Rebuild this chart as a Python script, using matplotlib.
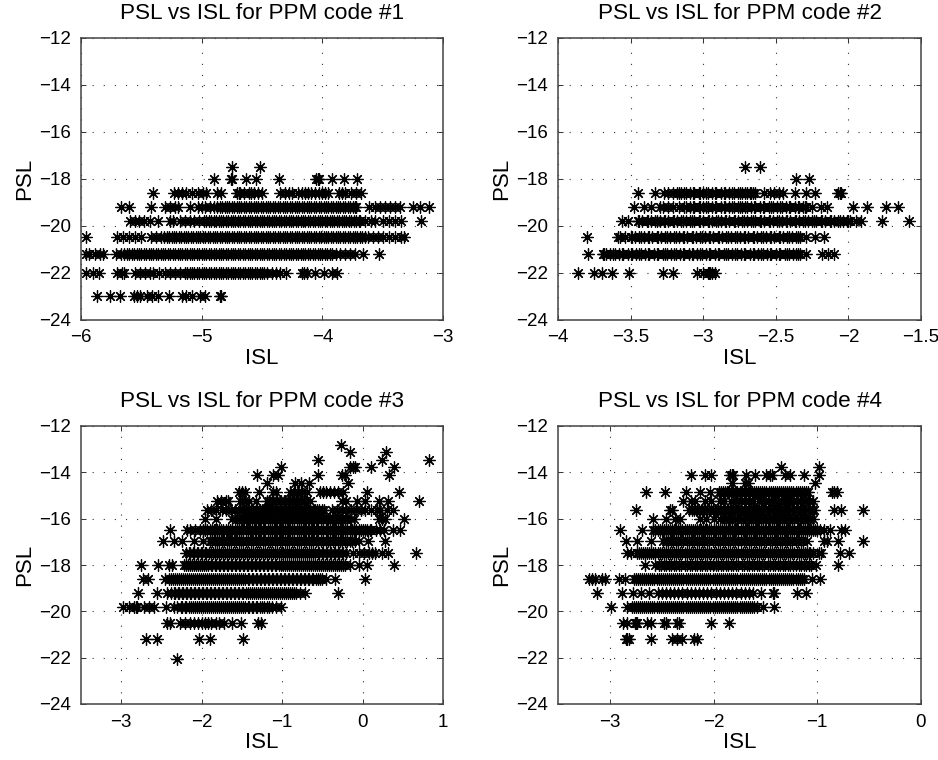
import matplotlib
matplotlib.use("Agg")
import matplotlib.pyplot as plt

plt.rcParams['font.family'] = ['Liberation Sans', 'DejaVu Sans']

# PSL levels and the ISL values read along each level
psl_1 = [-17.5, -18, -18.6, -19.2, -19.8, -20.5, -21.2, -22, -23]
isl_1 = [
    [-4.75, -4.52],
    [-4.90, -4.76, -4.75, -4.63, -4.55, -4.36, -4.05, -4.04, -4.03, -3.92, -3.82, -3.71],
    [-5.40, -5.23, -5.20, -5.16, -5.13, -5.08, -5.03, -4.99, -4.96, -4.87, -4.84, -4.71, -4.69, -4.68, -4.65,
     -4.61, -4.59, -4.57, -4.53, -4.50, -4.35, -4.31, -4.28, -4.25, -4.20, -4.17, -4.14, -4.12, -4.09, -4.06,
     -4.03, -4.00, -3.98, -3.95, -3.86, -3.84, -3.81, -3.76, -3.72, -3.68],
    [-5.67, -5.60, -5.42, -5.30, -5.26, -5.22, -5.20, -5.10, -5.03, -5.00, -4.97, -4.93, -4.90, -4.87, -4.83,
     -4.79, -4.75, -4.71, -4.67, -4.63, -4.59, -4.55, -4.51, -4.47, -4.43, -4.39, -4.35, -4.31, -4.27, -4.23,
     -4.19, -4.15, -4.11, -4.07, -4.03, -3.99, -3.95, -3.91, -3.87, -3.83, -3.79, -3.75, -3.72, -3.61, -3.56,
     -3.52, -3.48, -3.44, -3.40, -3.36, -3.25, -3.19, -3.12],
    [-5.59, -5.55, -5.52, -5.48, -5.43, -5.36, -5.26, -5.24, -5.18, -5.14, -5.10, -5.06, -5.02, -4.98, -4.96,
     -4.92, -4.88, -4.84, -4.80, -4.76, -4.72, -4.68, -4.64, -4.60, -4.56, -4.52, -4.48, -4.44, -4.40, -4.36,
     -4.32, -4.28, -4.24, -4.20, -4.16, -4.12, -4.08, -4.04, -4.00, -3.96, -3.92, -3.88, -3.84, -3.80, -3.76,
     -3.72, -3.69, -3.65, -3.60, -3.56, -3.50, -3.45, -3.40, -3.35, -3.18],
    [-5.96, -5.70, -5.65, -5.60, -5.55, -5.50, -5.42, -5.38, -5.34, -5.31, -5.27, -5.23, -5.19, -5.15, -5.11,
     -5.07, -5.03, -4.99, -4.95, -4.91, -4.87, -4.83, -4.79, -4.75, -4.71, -4.67, -4.63, -4.59, -4.55, -4.51,
     -4.47, -4.43, -4.39, -4.35, -4.31, -4.27, -4.23, -4.19, -4.15, -4.11, -4.07, -4.03, -3.99, -3.95, -3.91,
     -3.87, -3.83, -3.79, -3.75, -3.71, -3.67, -3.62, -3.58, -3.54, -3.50, -3.45, -3.40, -3.35, -3.32],
    [-5.96, -5.93, -5.88, -5.84, -5.82, -5.71, -5.67, -5.64, -5.60, -5.56, -5.52, -5.48, -5.44, -5.40, -5.36,
     -5.32, -5.28, -5.24, -5.20, -5.16, -5.12, -5.08, -5.04, -5.00, -4.96, -4.92, -4.88, -4.84, -4.80, -4.76,
     -4.72, -4.68, -4.64, -4.60, -4.56, -4.52, -4.48, -4.44, -4.40, -4.36, -4.32, -4.28, -4.24, -4.20, -4.16,
     -4.12, -4.08, -4.04, -4.00, -3.96, -3.92, -3.89, -3.85, -3.81, -3.77, -3.73, -3.66, -3.53],
    [-5.96, -5.90, -5.85, -5.70, -5.66, -5.64, -5.55, -5.51, -5.47, -5.43, -5.40, -5.35, -5.30, -5.26, -5.22,
     -5.18, -5.14, -5.10, -5.06, -5.02, -4.98, -4.94, -4.90, -4.86, -4.82, -4.78, -4.74, -4.70, -4.66, -4.62,
     -4.58, -4.54, -4.50, -4.46, -4.42, -4.38, -4.35, -4.30, -4.17, -4.15, -4.13, -4.06, -3.99, -3.92, -3.88],
    [-5.87, -5.76, -5.68, -5.56, -5.54, -5.51, -5.45, -5.41, -5.36, -5.27, -5.16, -5.13, -5.08, -5.01, -4.97,
     -4.85, -4.84],
]
# further points inside the black bands of each panel
band_psl_1 = [-19.2, -19.8, -20.5, -21.2, -22]
band_isl_1 = [
    [-4.85, -4.81, -4.77, -4.73, -4.69, -4.65, -4.61, -4.57, -4.53, -4.49, -4.45, -4.41, -4.37, -4.33, -4.29,
     -4.25, -4.21, -4.17, -4.13, -4.09, -4.05, -4.01, -3.97, -3.93, -3.89, -3.85, -3.81, -3.77, -3.73],
    [-4.94, -4.90, -4.86, -4.82, -4.78, -4.74, -4.70, -4.66, -4.62, -4.58, -4.54, -4.50, -4.46, -4.42, -4.38,
     -4.34, -4.30, -4.26, -4.22, -4.18, -4.14, -4.10, -4.06, -4.02, -3.98, -3.94, -3.90, -3.86, -3.82, -3.78,
     -3.74, -3.70],
    [-5.29, -5.25, -5.21, -5.17, -5.13, -5.09, -5.05, -5.01, -4.97, -4.93, -4.89, -4.85, -4.81, -4.77, -4.73,
     -4.69, -4.65, -4.61, -4.57, -4.53, -4.49, -4.45, -4.41, -4.37, -4.33, -4.29, -4.25, -4.21, -4.17, -4.13,
     -4.09, -4.05, -4.01, -3.97, -3.93, -3.89, -3.85, -3.81, -3.77, -3.73, -3.69, -3.65],
    [-5.62, -5.58, -5.54, -5.50, -5.46, -5.42, -5.38, -5.34, -5.30, -5.26, -5.22, -5.18, -5.14, -5.10, -5.06,
     -5.02, -4.98, -4.94, -4.90, -4.86, -4.82, -4.78, -4.74, -4.70, -4.66, -4.62, -4.58, -4.54, -4.50, -4.46,
     -4.42, -4.38, -4.34, -4.30, -4.26, -4.22, -4.18, -4.14, -4.10, -4.06, -4.02, -3.98, -3.94],
    [-5.12, -5.08, -5.04, -5.00, -4.96, -4.92, -4.88, -4.84, -4.80, -4.76, -4.72, -4.68, -4.64, -4.60, -4.56,
     -4.52, -4.48],
]

psl_2 = [-17.5, -18, -18.6, -19.2, -19.8, -20.5, -21.2, -22]
isl_2 = [
    [-2.71, -2.61],
    [-2.36, -2.27],
    [-3.45, -3.33, -3.27, -3.24, -3.21, -3.18, -3.15, -3.12, -3.09, -3.06, -3.03, -3.00, -2.97, -2.94, -2.91,
     -2.88, -2.85, -2.82, -2.79, -2.76, -2.73, -2.70, -2.67, -2.64, -2.58, -2.54, -2.51, -2.48, -2.45, -2.37,
     -2.29, -2.23, -2.07, -2.06, -2.05],
    [-3.48, -3.41, -3.36, -3.30, -3.28, -3.24, -3.21, -3.17, -3.13, -3.12, -3.09, -3.06, -3.03, -3.00, -2.97,
     -2.94, -2.91, -2.88, -2.85, -2.82, -2.79, -2.76, -2.73, -2.70, -2.67, -2.64, -2.61, -2.58, -2.55, -2.52,
     -2.49, -2.46, -2.43, -2.40, -2.37, -2.34, -2.31, -2.29, -2.25, -2.19, -2.15, -1.97, -1.87, -1.74, -1.66],
    [-3.56, -3.52, -3.45, -3.42, -3.39, -3.36, -3.33, -3.30, -3.27, -3.24, -3.21, -3.18, -3.15, -3.12, -3.09,
     -3.06, -3.03, -3.00, -2.97, -2.94, -2.91, -2.88, -2.85, -2.82, -2.79, -2.76, -2.73, -2.70, -2.67, -2.64,
     -2.61, -2.58, -2.55, -2.52, -2.49, -2.46, -2.43, -2.40, -2.37, -2.34, -2.31, -2.28, -2.25, -2.22, -2.19,
     -2.16, -2.13, -2.10, -2.07, -2.04, -2.01, -1.99, -1.95, -1.91, -1.77, -1.58],
    [-3.80, -3.59, -3.57, -3.54, -3.50, -3.47, -3.44, -3.41, -3.38, -3.35, -3.32, -3.29, -3.26, -3.23, -3.20,
     -3.17, -3.14, -3.11, -3.08, -3.05, -3.02, -2.99, -2.96, -2.93, -2.90, -2.87, -2.84, -2.81, -2.78, -2.75,
     -2.72, -2.69, -2.66, -2.63, -2.60, -2.57, -2.54, -2.51, -2.48, -2.45, -2.42, -2.39, -2.36, -2.33, -2.29,
     -2.23, -2.17],
    [-3.79, -3.69, -3.67, -3.64, -3.61, -3.58, -3.55, -3.52, -3.49, -3.46, -3.43, -3.40, -3.37, -3.34, -3.31,
     -3.28, -3.25, -3.22, -3.19, -3.16, -3.13, -3.10, -3.07, -3.04, -3.01, -2.98, -2.95, -2.92, -2.89, -2.86,
     -2.83, -2.80, -2.77, -2.74, -2.71, -2.68, -2.65, -2.62, -2.59, -2.56, -2.53, -2.50, -2.47, -2.44, -2.41,
     -2.38, -2.35, -2.33, -2.29, -2.18, -2.14, -2.10],
    [-3.86, -3.75, -3.70, -3.63, -3.51, -3.28, -3.21, -3.04, -3.00, -2.97, -2.96, -2.95, -2.94, -2.92],
]
band_psl_2 = [-18.6, -19.2, -19.8, -20.5, -21.2]
band_isl_2 = [
    [-3.17, -3.13, -3.07, -3.02, -2.98, -2.92, -2.86, -2.80, -2.75, -2.71, -2.68, -2.66],
    [-3.07, -3.02, -2.98, -2.92, -2.86, -2.80, -2.75, -2.71, -2.65, -2.59, -2.53, -2.47, -2.41, -2.35, -2.30],
    [-3.44, -3.38, -3.32, -3.26, -3.20, -3.14, -3.08, -3.02, -2.96, -2.90, -2.84, -2.78, -2.72, -2.66, -2.60,
     -2.54, -2.48, -2.42, -2.36, -2.30, -2.24, -2.18, -2.12, -2.06, -2.00],
    [-3.49, -3.43, -3.37, -3.31, -3.25, -3.19, -3.13, -3.07, -3.01, -2.95, -2.89, -2.83, -2.77, -2.71, -2.65,
     -2.59, -2.53, -2.47, -2.41, -2.35],
    [-3.68, -3.62, -3.56, -3.50, -3.44, -3.38, -3.32, -3.26, -3.20, -3.14, -3.08, -3.02, -2.96, -2.90, -2.84,
     -2.78, -2.72, -2.66, -2.60, -2.54, -2.48, -2.42, -2.36],
]

psl_3 = [-12.84, -13.14, -13.47, -13.78, -14.12, -14.47, -14.84, -15.22, -15.61, -16, -16.48, -16.98, -17.5,
         -18, -18.6, -19.2, -19.8, -20.5, -21.2, -22.05]
isl_3 = [
    [-0.27],
    [-0.15, 0.29],
    [-0.56, 0.24, 0.83],
    [-1.02, -0.16, -0.12, -0.10, 0.10, 0.39],
    [-1.31, -1.11, -1.05, -0.55, -0.26, -0.22, 0.33],
    [-1.19, -0.84, -0.76, -0.67, -0.18],
    [-1.54, -1.50, -1.46, -1.29, -1.11, -1.07, -0.90, -0.85, -0.80, -0.75, -0.69, -0.53, -0.49, -0.45, -0.41,
     -0.36, -0.30, -0.24, 0.06, 0.45],
    [-1.81, -1.76, -1.70, -1.67, -1.52, -1.47, -1.41, -1.33, -1.16, -1.11, -1.06, -1.01, -0.96, -0.91, -0.86,
     -0.81, -0.76, -0.71, -0.65, -0.26, -0.20, -0.07, 0.03, 0.21, 0.32, 0.70],
    [-1.93, -1.88, -1.82, -1.75, -1.70, -1.64, -1.58, -1.53, -1.47, -1.42, -1.36, -1.31, -1.25, -1.20, -1.14,
     -1.09, -1.03, -0.98, -0.92, -0.87, -0.81, -0.76, -0.70, -0.65, -0.59, -0.54, -0.48, -0.38, -0.32, -0.26,
     -0.20, -0.14, -0.08, -0.02, 0.03, 0.10, 0.18, 0.22, 0.30, 0.38],
    [-1.96, -1.82, -1.62, -1.56, -1.50, -1.44, -1.38, -1.33, -1.27, -1.21, -1.15, -1.09, -1.03, -0.97, -0.91,
     -0.85, -0.79, -0.73, -0.67, -0.61, -0.55, -0.49, -0.43, -0.37, -0.31, -0.25, -0.19, -0.14, -0.11, 0.21,
     0.24, 0.28, 0.52],
    [-2.39, -2.18, -2.14, -2.08, -2.02, -1.96, -1.90, -1.85, -1.81, -1.76, -1.70, -1.65, -1.59, -1.54, -1.48,
     -1.43, -1.37, -1.32, -1.26, -1.21, -1.15, -1.10, -1.04, -0.99, -0.93, -0.88, -0.82, -0.77, -0.71, -0.66,
     -0.60, -0.55, -0.49, -0.44, -0.38, -0.33, -0.27, -0.22, -0.16, -0.11, -0.05, 0.00, 0.06, 0.11, 0.17, 0.22,
     0.27, 0.38, 0.46],
    [-2.48, -2.34, -2.24, -2.10, -1.98, -1.90, -1.84, -1.78, -1.72, -1.66, -1.60, -1.54, -1.48, -1.42, -1.36,
     -1.30, -1.24, -1.18, -1.12, -1.06, -1.00, -0.94, -0.88, -0.82, -0.76, -0.70, -0.64, -0.58, -0.52, -0.46,
     -0.40, -0.34, -0.28, -0.22, -0.16, -0.10, -0.05, 0.07, 0.28],
    [-2.19, -2.14, -2.09, -2.04, -1.99, -1.94, -1.89, -1.84, -1.79, -1.74, -1.69, -1.64, -1.59, -1.54, -1.49,
     -1.44, -1.39, -1.34, -1.29, -1.24, -1.19, -1.14, -1.09, -1.04, -0.99, -0.94, -0.89, -0.84, -0.79, -0.74,
     -0.69, -0.64, -0.59, -0.54, -0.49, -0.44, -0.39, -0.34, -0.29, -0.24, -0.20, -0.12, -0.04, 0.02, 0.08, 0.12,
     0.16, 0.24, 0.32, 0.66],
    [-2.75, -2.54, -2.41, -2.37, -2.22, -2.17, -2.12, -2.07, -2.02, -1.97, -1.92, -1.87, -1.82, -1.77, -1.72,
     -1.67, -1.62, -1.57, -1.52, -1.47, -1.42, -1.37, -1.32, -1.27, -1.22, -1.17, -1.12, -1.07, -1.02, -0.97,
     -0.92, -0.87, -0.82, -0.77, -0.72, -0.67, -0.62, -0.57, -0.52, -0.47, -0.42, -0.37, -0.32, -0.27, -0.22,
     -0.16, -0.05, 0.05, 0.39],
    [-2.73, -2.67, -2.45, -2.41, -2.36, -2.31, -2.26, -2.21, -2.16, -2.11, -2.06, -2.01, -1.96, -1.91, -1.86,
     -1.81, -1.76, -1.71, -1.66, -1.61, -1.56, -1.51, -1.46, -1.41, -1.36, -1.31, -1.26, -1.21, -1.16, -1.11,
     -1.06, -1.01, -0.96, -0.91, -0.86, -0.81, -0.76, -0.71, -0.66, -0.61, -0.56, -0.51, -0.45, -0.34, 0.03],
    [-2.79, -2.55, -2.43, -2.38, -2.33, -2.28, -2.23, -2.18, -2.13, -2.08, -2.03, -1.98, -1.93, -1.88, -1.83,
     -1.78, -1.73, -1.68, -1.63, -1.58, -1.53, -1.48, -1.43, -1.38, -1.33, -1.28, -1.23, -1.18, -1.13, -1.08,
     -1.03, -0.98, -0.93, -0.88, -0.83, -0.78, -0.71, -0.30],
    [-2.98, -2.90, -2.84, -2.82, -2.80, -2.72, -2.66, -2.59, -2.44, -2.35, -2.31, -2.26, -2.21, -2.16, -2.11,
     -2.06, -2.01, -1.96, -1.91, -1.86, -1.81, -1.76, -1.71, -1.66, -1.61, -1.56, -1.51, -1.46, -1.41, -1.36,
     -1.31, -1.25, -1.19, -1.13, -1.08, -1.02],
    [-2.43, -2.39, -2.27, -2.21, -2.15, -2.10, -2.04, -2.00, -1.96, -1.92, -1.88, -1.82, -1.79, -1.72, -1.62,
     -1.51, -1.30, -1.26],
    [-2.69, -2.55, -2.03, -1.90, -1.49],
    [-2.31],
]
band_psl_3 = [-15.22, -15.61, -16, -16.48, -16.98, -17.5, -18, -18.6, -19.2, -19.8]
band_isl_3 = [
    [-1.19, -1.13, -1.08, -1.03, -0.98, -0.93, -0.88, -0.83, -0.78, -0.73],
    [-1.50, -1.45, -1.39, -1.33, -1.28, -1.23, -1.17, -1.12, -1.06, -1.01, -0.95, -0.90, -0.84, -0.79, -0.73,
     -0.68, -0.62, -0.57, -0.51],
    [-1.53, -1.47, -1.41, -1.35, -1.30, -1.24, -1.18, -1.12, -1.06, -1.00, -0.94, -0.88, -0.82, -0.76, -0.70,
     -0.64, -0.58, -0.52, -0.46, -0.40, -0.34, -0.28, -0.22],
    [-1.98, -1.93, -1.87, -1.83, -1.78, -1.73, -1.67, -1.62, -1.56, -1.51, -1.45, -1.40, -1.34, -1.29, -1.23,
     -1.18, -1.12, -1.07, -1.01, -0.96, -0.90, -0.85, -0.79, -0.74, -0.68, -0.63, -0.57, -0.52, -0.46, -0.41,
     -0.35, -0.30, -0.24, -0.19, -0.13, -0.08, -0.02, 0.03, 0.09],
    [-1.87, -1.81, -1.75, -1.69, -1.63, -1.57, -1.51, -1.45, -1.39, -1.33, -1.27, -1.21, -1.15, -1.09, -1.03,
     -0.97, -0.91, -0.85, -0.79, -0.73, -0.67, -0.61, -0.55, -0.49, -0.43, -0.37, -0.31, -0.25, -0.19, -0.13],
    [-2.16, -2.11, -2.06, -2.01, -1.96, -1.91, -1.86, -1.81, -1.76, -1.71, -1.66, -1.61, -1.56, -1.51, -1.46,
     -1.41, -1.36, -1.31, -1.26, -1.21, -1.16, -1.11, -1.06, -1.01, -0.96, -0.91, -0.86, -0.81, -0.76, -0.71,
     -0.66, -0.61, -0.56, -0.51, -0.46, -0.41, -0.36, -0.31, -0.26],
    [-2.19, -2.14, -2.09, -2.04, -1.99, -1.94, -1.89, -1.84, -1.79, -1.74, -1.69, -1.64, -1.59, -1.54, -1.49,
     -1.44, -1.39, -1.34, -1.29, -1.24, -1.19, -1.14, -1.09, -1.04, -0.99, -0.94, -0.89, -0.84, -0.79, -0.74,
     -0.69, -0.64, -0.59, -0.54, -0.49, -0.44, -0.39, -0.34, -0.29, -0.24],
    [-2.38, -2.33, -2.28, -2.23, -2.18, -2.13, -2.08, -2.03, -1.98, -1.93, -1.88, -1.83, -1.78, -1.73, -1.68,
     -1.63, -1.58, -1.53, -1.48, -1.43, -1.38, -1.33, -1.28, -1.23, -1.18, -1.13, -1.08, -1.03, -0.98, -0.93,
     -0.88, -0.83, -0.78, -0.73, -0.68, -0.63, -0.58, -0.53],
    [-2.35, -2.30, -2.25, -2.20, -2.15, -2.10, -2.05, -2.00, -1.95, -1.90, -1.85, -1.80, -1.75, -1.70, -1.65,
     -1.60, -1.55, -1.50, -1.45, -1.40, -1.35, -1.30, -1.25, -1.20, -1.15, -1.10, -1.05, -1.00, -0.95, -0.90,
     -0.85],
    [-2.24, -2.19, -2.13, -2.08, -2.03, -1.98, -1.93, -1.88, -1.83, -1.78, -1.73, -1.68, -1.63, -1.58, -1.53,
     -1.48, -1.43, -1.38, -1.33, -1.28, -1.22, -1.16],
]

psl_4 = [-13.78, -14.12, -14.47, -14.84, -15.22, -15.61, -16, -16.48, -16.98, -17.5, -18, -18.6, -19.2, -19.8,
         -20.5, -21.2]
isl_4 = [
    [-1.35, -0.98],
    [-2.22, -2.08, -2.02, -1.84, -1.82, -1.81, -1.69, -1.60, -1.49, -1.46, -1.44, -1.31, -1.26, -1.13, -0.98],
    [-1.82, -1.70, -1.67, -1.02],
    [-2.65, -2.47, -2.27, -2.13, -2.03, -1.95, -1.91, -1.87, -1.83, -1.79, -1.75, -1.71, -1.67, -1.63, -1.59,
     -1.55, -1.51, -1.47, -1.43, -1.39, -1.35, -1.31, -1.27, -1.23, -1.19, -1.15, -1.11, -1.09, -0.86, -0.84,
     -0.81],
    [-2.29, -2.22, -2.18, -2.08, -2.02, -1.94, -1.83, -1.74, -1.66, -1.56, -1.50, -1.44, -1.38, -1.30, -1.26,
     -1.20, -1.13, -1.08, -1.04],
    [-2.75, -2.42, -2.40, -2.24, -2.19, -2.14, -2.09, -2.04, -1.99, -1.94, -1.89, -1.84, -1.79, -1.74, -1.69,
     -1.64, -1.59, -1.54, -1.49, -1.44, -1.39, -1.34, -1.29, -1.24, -1.19, -1.14, -1.09, -1.05, -1.03, -0.84,
     -0.77, -0.56],
    [-2.58, -2.46, -2.37, -2.32, -2.13, -2.07, -2.00, -1.94, -1.88, -1.82, -1.77, -1.72, -1.67, -1.62, -1.57,
     -1.52, -1.47, -1.42, -1.37, -1.32, -1.27, -1.22, -1.17, -1.12, -1.07, -1.04],
    [-2.90, -2.69, -2.58, -2.54, -2.50, -2.46, -2.42, -2.38, -2.34, -2.30, -2.26, -2.22, -2.18, -2.14, -2.10,
     -2.06, -2.02, -1.98, -1.94, -1.90, -1.86, -1.82, -1.78, -1.74, -1.70, -1.66, -1.62, -1.58, -1.54, -1.50,
     -1.46, -1.42, -1.38, -1.34, -1.30, -1.26, -1.22, -1.18, -1.14, -1.10, -1.06, -1.02, -0.97, -0.94, -0.88,
     -0.77, -0.73],
    [-2.84, -2.74, -2.60, -2.49, -2.44, -2.39, -2.34, -2.29, -2.24, -2.19, -2.14, -2.09, -2.04, -1.99, -1.94,
     -1.89, -1.84, -1.79, -1.74, -1.69, -1.64, -1.59, -1.54, -1.49, -1.44, -1.39, -1.34, -1.29, -1.24, -1.19,
     -1.14, -1.10, -0.94, -0.91, -0.80, -0.56],
    [-2.83, -2.80, -2.74, -2.70, -2.66, -2.62, -2.58, -2.54, -2.50, -2.46, -2.42, -2.38, -2.34, -2.30, -2.26,
     -2.22, -2.18, -2.14, -2.10, -2.06, -2.02, -1.98, -1.94, -1.90, -1.86, -1.82, -1.78, -1.74, -1.70, -1.66,
     -1.62, -1.58, -1.54, -1.50, -1.46, -1.42, -1.38, -1.34, -1.30, -1.26, -1.22, -1.18, -1.14, -1.10, -1.07,
     -1.04, -0.98, -0.96, -0.78, -0.69],
    [-2.66, -2.56, -2.51, -2.46, -2.41, -2.36, -2.31, -2.26, -2.21, -2.16, -2.11, -2.06, -2.01, -1.96, -1.91,
     -1.86, -1.81, -1.76, -1.71, -1.66, -1.61, -1.56, -1.51, -1.46, -1.41, -1.36, -1.31, -1.26, -1.21, -1.16,
     -1.11, -1.06, -1.01, -0.80],
    [-3.20, -3.17, -3.14, -3.08, -3.05, -2.91, -2.85, -2.77, -2.73, -2.69, -2.65, -2.61, -2.57, -2.53, -2.49,
     -2.45, -2.41, -2.37, -2.33, -2.29, -2.25, -2.21, -2.17, -2.13, -2.09, -2.05, -2.01, -1.97, -1.93, -1.89,
     -1.85, -1.81, -1.77, -1.73, -1.69, -1.65, -1.61, -1.57, -1.53, -1.49, -1.45, -1.41, -1.37, -1.33, -1.29,
     -1.25, -1.21, -1.17, -1.13, -1.05, -0.97],
    [-3.12, -2.88, -2.78, -2.70, -2.62, -2.54, -2.50, -2.46, -2.42, -2.38, -2.34, -2.30, -2.26, -2.22, -2.18,
     -2.14, -2.10, -2.06, -2.02, -1.98, -1.94, -1.90, -1.86, -1.82, -1.78, -1.74, -1.70, -1.66, -1.62, -1.54,
     -1.43, -1.42, -1.20, -1.11],
    [-2.99, -2.83, -2.79, -2.75, -2.71, -2.67, -2.63, -2.59, -2.55, -2.51, -2.47, -2.43, -2.39, -2.35, -2.31,
     -2.27, -2.23, -2.19, -2.15, -2.11, -2.07, -2.03, -1.99, -1.95, -1.91, -1.87, -1.83, -1.79, -1.75, -1.71,
     -1.67, -1.63, -1.58, -1.52, -1.42],
    [-2.87, -2.83, -2.76, -2.75, -2.74, -2.64, -2.60, -2.48, -2.46, -2.35, -2.33, -2.02, -1.85],
    [-2.84, -2.83, -2.82, -2.60, -2.40, -2.35, -2.30, -2.19, -2.16],
]
band_psl_4 = [-14.84, -15.22, -15.61, -16, -16.48, -16.98, -17.5, -18, -18.6, -19.8]
band_isl_4 = [
    [-1.93, -1.89, -1.85, -1.81, -1.77, -1.73, -1.69, -1.65, -1.61, -1.57, -1.53, -1.49, -1.45, -1.41, -1.37,
     -1.33, -1.29, -1.25, -1.21, -1.17, -1.13],
    [-1.90, -1.78, -1.70, -1.62, -1.53, -1.47, -1.41, -1.34, -1.28, -1.23, -1.17, -1.11],
    [-2.21, -2.16, -2.11, -2.06, -2.01, -1.96, -1.91, -1.86, -1.81, -1.76, -1.71, -1.66, -1.61, -1.56, -1.51,
     -1.46, -1.41, -1.36, -1.31, -1.26, -1.21, -1.16, -1.11],
    [-1.90, -1.85, -1.79, -1.74, -1.69, -1.64, -1.59, -1.54, -1.49, -1.44, -1.39, -1.34, -1.29, -1.24, -1.19,
     -1.14, -1.09],
    [-2.56, -2.52, -2.48, -2.44, -2.40, -2.36, -2.32, -2.28, -2.24, -2.20, -2.16, -2.12, -2.08, -2.04, -2.00,
     -1.96, -1.92, -1.88, -1.84, -1.80, -1.76, -1.72, -1.68, -1.64, -1.60, -1.56, -1.52, -1.48, -1.44, -1.40,
     -1.36, -1.32, -1.28, -1.24, -1.20, -1.16, -1.12, -1.08, -1.04, -1.00],
    [-2.46, -2.41, -2.36, -2.31, -2.26, -2.21, -2.16, -2.11, -2.06, -2.01, -1.96, -1.91, -1.86, -1.81, -1.76,
     -1.71, -1.66, -1.61, -1.56, -1.51, -1.46, -1.41, -1.36, -1.31, -1.26, -1.21, -1.16],
    [-2.72, -2.68, -2.64, -2.60, -2.56, -2.52, -2.48, -2.44, -2.40, -2.36, -2.32, -2.28, -2.24, -2.20, -2.16,
     -2.12, -2.08, -2.04, -2.00, -1.96, -1.92, -1.88, -1.84, -1.80, -1.76, -1.72, -1.68, -1.64, -1.60, -1.56,
     -1.52, -1.48, -1.44, -1.40, -1.36, -1.32, -1.28, -1.24, -1.20, -1.16, -1.12, -1.08],
    [-2.53, -2.48, -2.43, -2.38, -2.33, -2.28, -2.23, -2.18, -2.13, -2.08, -2.03, -1.98, -1.93, -1.88, -1.83,
     -1.78, -1.73, -1.68, -1.63, -1.58, -1.53, -1.48, -1.43, -1.38, -1.33, -1.28, -1.23, -1.18, -1.13, -1.08],
    [-2.75, -2.71, -2.67, -2.63, -2.59, -2.55, -2.51, -2.47, -2.43, -2.39, -2.35, -2.31, -2.27, -2.23, -2.19,
     -2.15, -2.11, -2.07, -2.03, -1.99, -1.95, -1.91, -1.87, -1.83, -1.79, -1.75, -1.71, -1.67, -1.63, -1.59,
     -1.55, -1.51, -1.47, -1.43, -1.39, -1.35, -1.31, -1.27, -1.23, -1.19, -1.15],
    [-2.77, -2.73, -2.69, -2.65, -2.61, -2.57, -2.53, -2.49, -2.45, -2.41, -2.37, -2.33, -2.29, -2.25, -2.21,
     -2.17, -2.13, -2.09, -2.05, -2.01, -1.97, -1.93, -1.89, -1.85, -1.81, -1.77, -1.73, -1.69, -1.65, -1.61],
]

titles = ['PSL vs ISL for PPM code #1', 'PSL vs ISL for PPM code #2',
          'PSL vs ISL for PPM code #3', 'PSL vs ISL for PPM code #4']
psl_all = [psl_1, psl_2, psl_3, psl_4]
isl_all = [isl_1, isl_2, isl_3, isl_4]
band_psl_all = [band_psl_1, band_psl_2, band_psl_3, band_psl_4]
band_isl_all = [band_isl_1, band_isl_2, band_isl_3, band_isl_4]
x_limits = [(-6, -3), (-4, -1.5), (-3.5, 1), (-3.5, 0)]
x_ticks = [[-6, -5, -4, -3], [-4, -3.5, -3, -2.5, -2, -1.5], [-3, -2, -1, 0, 1], [-3, -2, -1, 0]]
y_ticks = [-24, -22, -20, -18, -16, -14, -12]

W, H = 938, 760
boxes = [(81, 38, 443, 319.5), (558, 38, 921, 319.5), (81, 426, 443, 704), (558, 426, 921, 704)]

fig = plt.figure(figsize=(W / 100, H / 100), dpi=100)

for i in range(4):
    l, t, r, b = boxes[i]
    ax = fig.add_axes([l / W, 1 - b / H, (r - l) / W, (b - t) / H])
    rows = list(zip(psl_all[i], isl_all[i])) + list(zip(band_psl_all[i], band_isl_all[i]))
    for level, xs in rows:
        ax.plot(xs, [level] * len(xs), linestyle='none', color='black',
                marker=(8, 2, 0), markersize=8.6, markeredgewidth=0.9, clip_on=True)
    ax.set_xlim(x_limits[i])
    ax.set_ylim(-24, -12)
    ax.set_xticks(x_ticks[i])
    ax.set_xticklabels([str(v).replace('-', '\u2212') for v in x_ticks[i]])
    ax.set_yticks(y_ticks)
    ax.set_yticklabels([str(v).replace('-', '\u2212') for v in y_ticks])
    ax.grid(True, color='#333333', linestyle=(0, (1, 9)), linewidth=0.8)
    ax.set_axisbelow(True)
    ax.tick_params(direction='in', top=True, right=True, length=3.5, width=0.7, color='#333333',
                   labelsize=13.5)
    ax.tick_params(axis='x', pad=7)
    ax.tick_params(axis='y', pad=7)
    for s in ax.spines.values():
        s.set_linewidth(1.1)
        s.set_color('#444444')
    ax.set_title(titles[i], fontsize=16.2, pad=14)
    ax.set_xlabel('ISL', fontsize=16, labelpad=1)
    ax.set_ylabel('PSL', fontsize=16, labelpad=3)

plt.savefig('out.png', dpi=100)
